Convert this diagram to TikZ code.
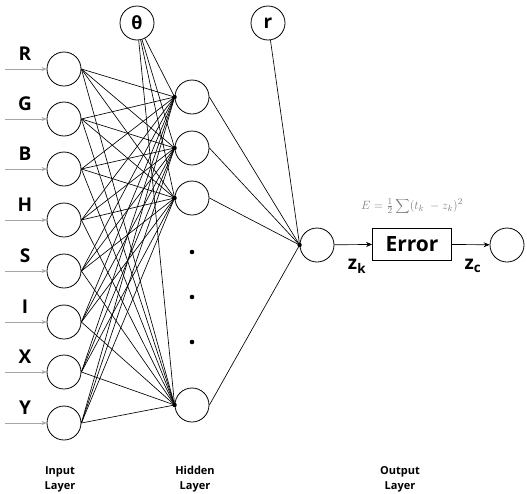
\documentclass[tikz,border=0pt]{standalone}
\usepackage{fontspec}
\setmainfont{Open Sans}
\usetikzlibrary{positioning,arrows.meta}

\tikzset{
    neuron/.style = {circle, draw, line width=0.8pt, minimum size=34pt, inner sep=0pt},
    inarrow/.style = {draw=gray!70, line width=0.7pt, -{Stealth[length=5pt,width=4pt]}},
    link/.style = {line width=0.65pt},
    letter/.style = {font=\fontsize{19}{20}\selectfont\bfseries},
    layername/.style = {align=center, font=\fontsize{11}{15}\selectfont\bfseries},
}

\begin{document}
\begin{tikzpicture}[x=1pt, y=-1pt]
    \useasboundingbox (0,0) rectangle (527,493);

    % input layer
    \foreach \n/\y in {R/69,G/119,B/169,H/220,S/271,I/322,X/372,Y/423} {
        \node[neuron] (\n) at (64,\y) {};
        \coordinate (\n-in) at (5,\y);
        \draw[inarrow] (\n-in) -- (\n.west);
        \node[letter] (\n-lab) at (25,\y-15) {\n};
    }

    % hidden layer
    \foreach \h/\y in {h1/97,h2/148,h3/198,h4/405}
        \node[neuron] (\h) at (192,\y) {};
    \foreach \y in {252,297,342}
        \fill (192,\y) circle (2.3);

    \node[neuron, font=\fontsize{18}{18}\selectfont\bfseries] (theta) at (137,23) {θ};
    \node[neuron, font=\fontsize{19}{18}\selectfont\bfseries] (r) at (268,23) {r};

    % output side
    \node[neuron] (out) at (317,245) {};
    \node[draw, line width=0.8pt, minimum width=79pt, minimum height=32pt,
          font=\fontsize{21}{24}\selectfont\bfseries] (err) at (412,244) {Error};
    \node[neuron] (fin) at (507,245) {};

    % connections
    \foreach \n in {R,G,B,H,S,I,X,Y}
        \foreach \h in {h1,h2,h3,h4}
            \draw[link] (\n.east) -- (\h.west);
    \foreach \h in {h1,h2,h3,h4} {
        \draw[link] (theta) -- (\h.west);
        \draw[link] (\h.east) -- (out.west);
        \fill (\h.west) circle (2.2);
    }
    \draw[link] (r) -- (out.west);
    \fill (out.west) circle (2.2);

    \draw[link, -{Stealth[length=6pt,width=5pt]}] (out) -- (err);
    \draw[link, -{Stealth[length=6pt,width=5pt]}] (err) -- (fin);

    \node[text=gray, font=\fontsize{13}{15}\selectfont, inner sep=0pt] (eq) at (412,206)
        {$E=\frac{1}{2}\displaystyle\sum(t_k\;-z_k)^2$};
    \node[font=\fontsize{19}{20}\selectfont\bfseries] (zk) at (357,266) {z\textsubscript{k}};
    \node[font=\fontsize{19}{20}\selectfont\bfseries] (zc) at (473,266) {z\textsubscript{c}};

    % layer names
    \node[layername] (inname) at (60,479) {Input\\Layer};
    \node[layername] (hidname) at (195,479) {Hidden\\Layer};
    \node[layername] (outname) at (400,479) {Output\\Layer};
\end{tikzpicture}
\end{document}
